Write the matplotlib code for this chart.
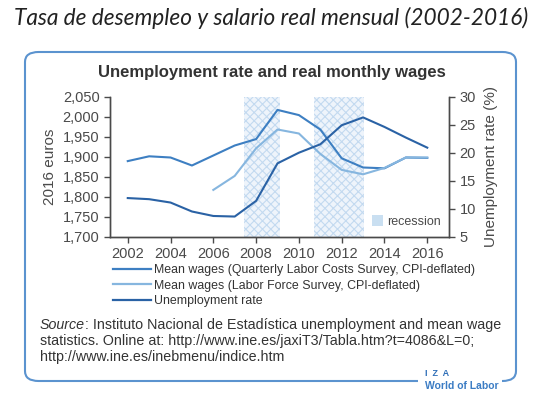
import matplotlib
matplotlib.use("Agg")
import matplotlib.pyplot as plt
from matplotlib.patches import FancyBboxPatch, Patch, Rectangle
from matplotlib.lines import Line2D

plt.rcParams['font.family'] = ['Liberation Sans', 'DejaVu Sans']
plt.rcParams['hatch.color'] = '#c3daf0'
plt.rcParams['hatch.linewidth'] = 0.8

# data
years = [2002, 2003, 2004, 2005, 2006, 2007, 2008, 2009, 2010, 2011, 2012, 2013, 2014, 2015, 2016]
wages_qlcs = [1889, 1901, 1898, 1878, 1903, 1928, 1944, 2017, 2004, 1968, 1896, 1873, 1871, 1898, 1897]
lfs_years = [2006, 2007, 2008, 2009, 2010, 2011, 2012, 2013, 2014, 2015, 2016]
wages_lfs = [1817, 1852, 1921, 1968, 1958, 1907, 1867, 1856, 1872, 1898, 1898]
unemployment = [11.9, 11.7, 11.1, 9.5, 8.7, 8.6, 11.4, 18.1, 20.0, 21.5, 24.9, 26.3, 24.6, 22.7, 20.9]
recessions = [(2007.45, 2009.1), (2010.7, 2013.05)]

c_qlcs = '#3d7fc2'
c_lfs = '#86b6df'
c_unemp = '#2a62a5'
grey = '#4a4a4a'

fig = plt.figure(figsize=(5.43, 3.97), dpi=100)

# outer title
fig.text(0.5, 0.955, 'Tasa de desempleo y salario real mensual (2002-2016)',
         ha='center', va='center', fontsize=16.3, style='italic', family='Lato', color='#222222')

# rounded frame
frame = FancyBboxPatch((25 / 543, 1 - 381 / 397), (516 - 25) / 543, (381 - 52) / 397,
                       boxstyle='round,pad=0,rounding_size=0.025', transform=fig.transFigure,
                       fill=False, edgecolor='#5b93cf', linewidth=1.5)
fig.patches.append(frame)
fig.patches.append(Rectangle((418 / 543, 0.0), (502 - 418) / 543, 24 / 397,
                             transform=fig.transFigure, facecolor='white', edgecolor='none'))
fig.text(437 / 543, 1 - 373 / 397, 'I  Z  A', ha='center', va='center', fontsize=6.5,
         fontweight='bold', color='#2f6fb8')
fig.text(462 / 543, 1 - 386 / 397, 'World of Labor', ha='center', va='center', fontsize=7.5,
         fontweight='bold', color='#3b7cc4')

fig.text(0.5, 1 - 72 / 397, 'Unemployment rate and real monthly wages',
         ha='center', va='center', fontsize=12, fontweight='bold', color='#333333')

ax = fig.add_axes([110 / 543, 1 - 236.7 / 397, 339.3 / 543, 140 / 397])
for a, b in recessions:
    ax.axvspan(a, b, facecolor='#eef4fb', edgecolor='#c3daf0', hatch='xxxx', linewidth=0, zorder=0)

ax.plot(years, wages_qlcs, color=c_qlcs, lw=1.5, zorder=3)
ax.plot(lfs_years, wages_lfs, color=c_lfs, lw=1.5, zorder=3)
ax.set_xlim(2001.17, 2017.03)
ax.set_ylim(1700, 2050)
ax.set_yticks(range(1700, 2051, 50))
ax.set_yticklabels([f'{v:,}' for v in range(1700, 2051, 50)])
ax.set_xticks(range(2002, 2017, 2))
ax.set_ylabel('2016 euros', fontsize=11, color=grey, labelpad=4)

ax2 = ax.twinx()
ax2.plot(years, unemployment, color=c_unemp, lw=1.5, zorder=3)
ax2.set_ylim(5, 30)
ax2.set_yticks(range(5, 31, 5))
ax2.set_ylabel('Unemployment rate (%)', fontsize=11, color=grey, labelpad=6)

for a in (ax, ax2):
    a.spines['top'].set_visible(False)
    for s in ('left', 'right', 'bottom'):
        a.spines[s].set_color(grey)
        a.spines[s].set_linewidth(1.0)
    a.tick_params(labelsize=10.5, colors=grey, length=4, width=1.0)
    a.patch.set_visible(False)

ax2.legend(handles=[Patch(facecolor='#c9dff1', edgecolor='none', label='recession')],
           loc='lower right', frameon=False, fontsize=9, handlelength=0.9, handleheight=0.9,
           handletextpad=0.3, borderaxespad=0.3, labelcolor=grey)

handles = [Line2D([], [], color=c_qlcs, lw=1.6),
           Line2D([], [], color=c_lfs, lw=1.6),
           Line2D([], [], color=c_unemp, lw=1.6)]
labels = ['Mean wages (Quarterly Labor Costs Survey, CPI-deflated)',
          'Mean wages (Labor Force Survey, CPI-deflated)',
          'Unemployment rate']
fig.legend(handles, labels, loc='upper left', bbox_to_anchor=(108 / 543, 1 - 259 / 397),
           frameon=False, fontsize=8.9, handlelength=3.1, handletextpad=0.2,
           labelspacing=0.3, borderaxespad=0, labelcolor='#333333')

src_y = [325, 341, 357]
src_size = 10.3
src = fig.text(40 / 543, 1 - src_y[0] / 397, 'Source', style='italic', fontsize=src_size,
               va='center', color='#333333')
fig.canvas.draw()
bb = src.get_window_extent(fig.canvas.get_renderer())
fig.text(bb.x1 / fig.bbox.width, 1 - src_y[0] / 397,
         ': Instituto Nacional de Estadística unemployment and mean wage',
         fontsize=src_size, va='center', color='#333333')
fig.text(40 / 543, 1 - src_y[1] / 397,
         'statistics. Online at: http://www.ine.es/jaxiT3/Tabla.htm?t=4086&L=0;',
         fontsize=src_size, va='center', color='#333333')
fig.text(40 / 543, 1 - src_y[2] / 397, 'http://www.ine.es/inebmenu/indice.htm',
         fontsize=src_size, va='center', color='#333333')

fig.savefig('out.png', dpi=100)
